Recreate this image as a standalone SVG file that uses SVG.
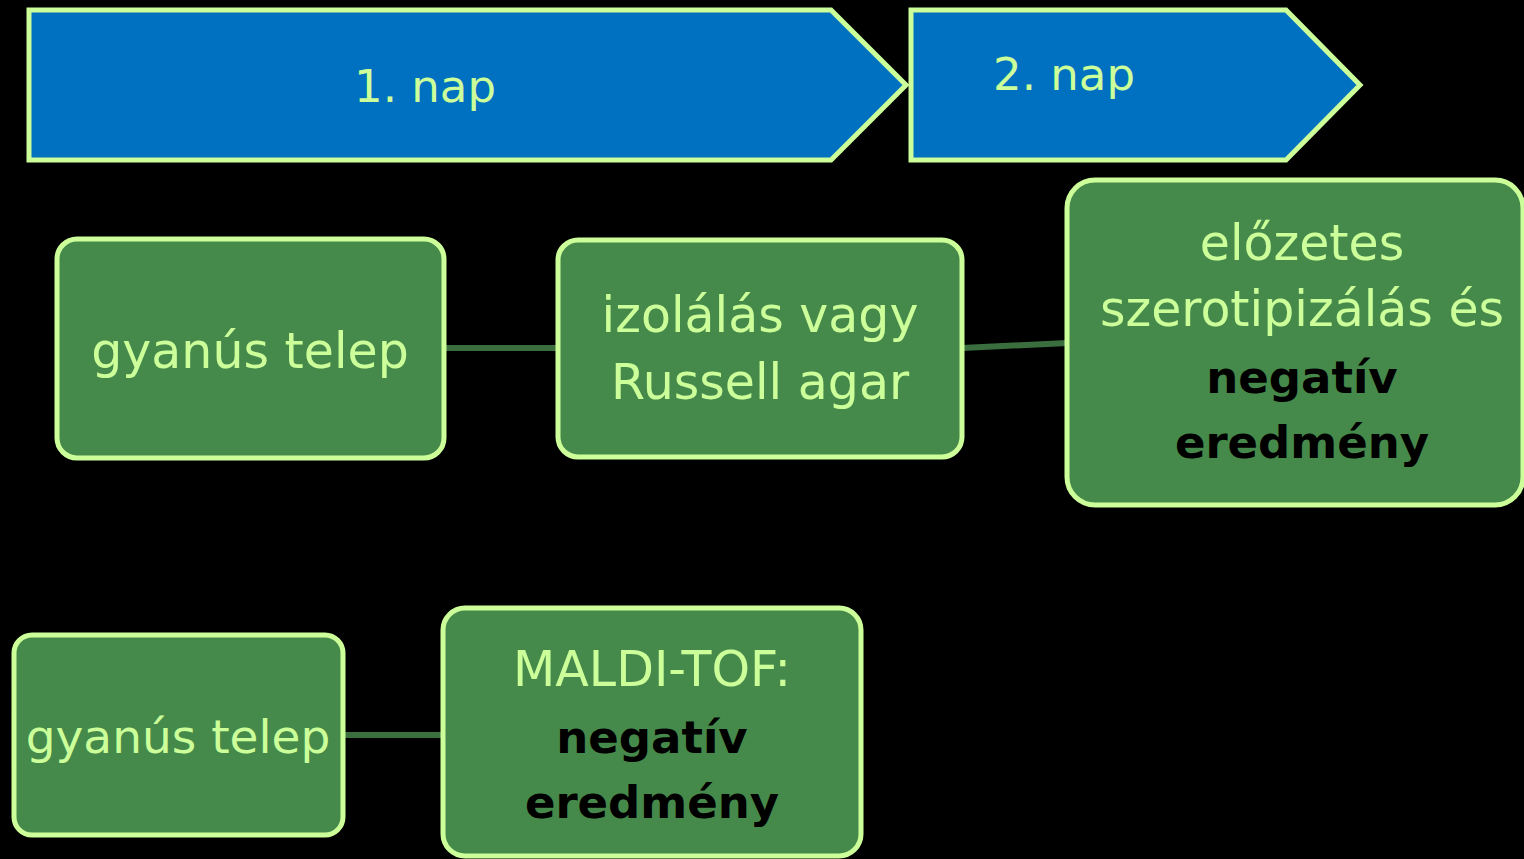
<svg xmlns="http://www.w3.org/2000/svg" width="1524" height="859" viewBox="0 0 1524 859">
<style>
.chev{fill:#0070C0;stroke:#CCFF99;stroke-width:5;stroke-linejoin:miter}
.box{fill:#468A4B;stroke:#CCFF99;stroke-width:5}
.t{font-family:"DejaVu Sans","Noto Sans",sans-serif;fill:#CCFF99;text-anchor:middle;font-size:49px}
.n{font-size:45px}
.s{font-size:47px}
.b{fill:#000;font-weight:bold;font-size:45px}
.con line{stroke:#3A6E3E;stroke-width:6}
</style>
<rect width="1524" height="859" fill="#000"/>
<g class="con">
<line x1="444" y1="348" x2="558" y2="348"/>
<line x1="962" y1="348" x2="1067" y2="343"/>
<line x1="343" y1="735" x2="443" y2="735"/>
</g>
<g id="day1">
<polygon class="chev" points="29,10 831,10 906,85 831,160 29,160"/>
<text class="t n" x="425" y="102">1. nap</text>
</g>
<g id="day2">
<polygon class="chev" points="911,10 1286,10 1360,85 1286,160 911,160"/>
<text class="t n" x="1064" y="90">2. nap</text>
</g>
<g id="n1">
<rect class="box" x="57" y="239" width="387" height="219" rx="20"/>
<text class="t" x="250" y="368">gyanús telep</text>
</g>
<g id="n2">
<rect class="box" x="558" y="240" width="404" height="217" rx="20"/>
<text class="t" x="760" y="332">izolálás vagy</text>
<text class="t" x="760" y="399">Russell agar</text>
</g>
<g id="n3">
<rect class="box" x="1067" y="180" width="456" height="325" rx="28"/>
<text class="t" x="1302" y="260">előzetes</text>
<text class="t" x="1302" y="326">szerotipizálás és</text>
<text class="t b" x="1302" y="393">negatív</text>
<text class="t b" x="1302" y="458">eredmény</text>
</g>
<g id="n4">
<rect class="box" x="14" y="635" width="329" height="200" rx="18"/>
<text class="t s" x="178" y="753">gyanús telep</text>
</g>
<g id="n5">
<rect class="box" x="443" y="608" width="418" height="248" rx="22"/>
<text class="t" x="652" y="686">MALDI-TOF:</text>
<text class="t b" x="652" y="753">negatív</text>
<text class="t b" x="652" y="818">eredmény</text>
</g>
</svg>
